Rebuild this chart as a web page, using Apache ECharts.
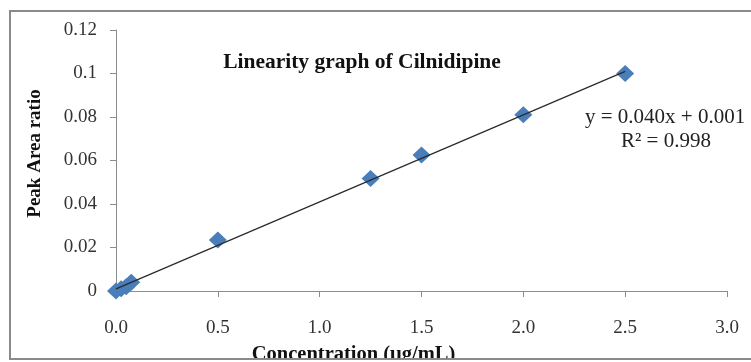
<!DOCTYPE html>
<html>
<head>
<meta charset="utf-8">
<script src="https://cdn.jsdelivr.net/npm/echarts@6/dist/echarts.min.js"></script>
<style>html,body{margin:0;padding:0;background:#fff}#c{width:751px;height:362px}</style>
</head>
<body>
<div id="c"></div>
<script>
var concentration = [0, 0.025, 0.05, 0.075, 0.5, 1.25, 1.5, 2.0, 2.5];
var peakAreaRatio = [0, 0.001, 0.002, 0.004, 0.0235, 0.0517, 0.0625, 0.081, 0.1];
var trendX = [0, 2.5];
var trendY = [0.001, 0.101];
var titleText = 'Linearity graph of Cilnidipine';
var equationLines = ['y = 0.040x + 0.001', 'R² = 0.998'];
var xName = 'Concentration (μg/mL)';
var yName = 'Peak Area ratio';

var serif = '"Liberation Serif", "Times New Roman", serif';
var chart = echarts.init(document.getElementById('c'), null, {renderer: 'canvas'});
var scatterData = concentration.map(function (x, i) { return [x, peakAreaRatio[i]]; });
var trendData = trendX.map(function (x, i) { return [x, trendY[i]]; });

chart.setOption({
  animation: false,
  backgroundColor: '#fff',
  title: {
    text: titleText,
    left: 357, top: 46, textAlign: 'center',
    textStyle: {fontFamily: serif, fontWeight: 'bold', fontSize: 21.5, color: '#111'}
  },
  grid: {left: 116, right: 24, top: 30, bottom: 71, containLabel: false, outerBoundsMode: 'none'},
  xAxis: {
    type: 'value', min: 0, max: 3, interval: 0.5,
    name: xName, nameLocation: 'middle', nameGap: 53,
    nameTextStyle: {fontFamily: serif, fontWeight: 'bold', fontSize: 20.5, color: '#111', padding: [0, 136, 0, 0]},
    axisLine: {show: true, lineStyle: {color: '#8c8c8c', width: 1}},
    axisTick: {show: true, length: 6, lineStyle: {color: '#8c8c8c'}},
    axisLabel: {margin: 28, fontFamily: serif, fontSize: 19, color: '#333', formatter: function (v) { return v.toFixed(1); }},
    splitLine: {show: false}
  },
  yAxis: {
    type: 'value', min: 0, max: 0.12, interval: 0.02,
    name: yName, nameLocation: 'middle', nameGap: 71, nameRotate: 90,
    nameTextStyle: {fontFamily: serif, fontWeight: 'bold', fontSize: 19, color: '#111', padding: [0, 0, 0, 14]},
    axisLine: {show: true, lineStyle: {color: '#8c8c8c', width: 1}},
    axisTick: {show: true, length: 6, lineStyle: {color: '#8c8c8c'}},
    axisLabel: {margin: 19, fontFamily: serif, fontSize: 19, color: '#333'},
    splitLine: {show: false}
  },
  series: [
    {
      type: 'scatter', data: scatterData, symbol: 'diamond', symbolSize: [18, 17],
      itemStyle: {color: '#4a7ebb', opacity: 1}, z: 2
    },
    {
      type: 'line', data: trendData, showSymbol: false, symbol: 'none',
      lineStyle: {color: '#2a2a2a', width: 1.2}, z: 3, silent: true
    }
  ],
  graphic: [
    {type: 'text', left: 585, top: 107, z: 10,
     style: {text: equationLines[0], font: '21px ' + serif, fill: '#222'}},
    {type: 'text', x: 666, y: 131, z: 10,
     style: {text: equationLines[1], font: '21px ' + serif, fill: '#222', textAlign: 'center'}},
    {type: 'rect', z: 20, shape: {x: 0, y: 360, width: 751, height: 3}, style: {fill: '#fff'}},
    {type: 'rect', z: 21, shape: {x: 10, y: 11, width: 760, height: 348}, style: {fill: 'none', stroke: '#8a8a8a', lineWidth: 2}}
  ]
});
</script>
</body>
</html>
